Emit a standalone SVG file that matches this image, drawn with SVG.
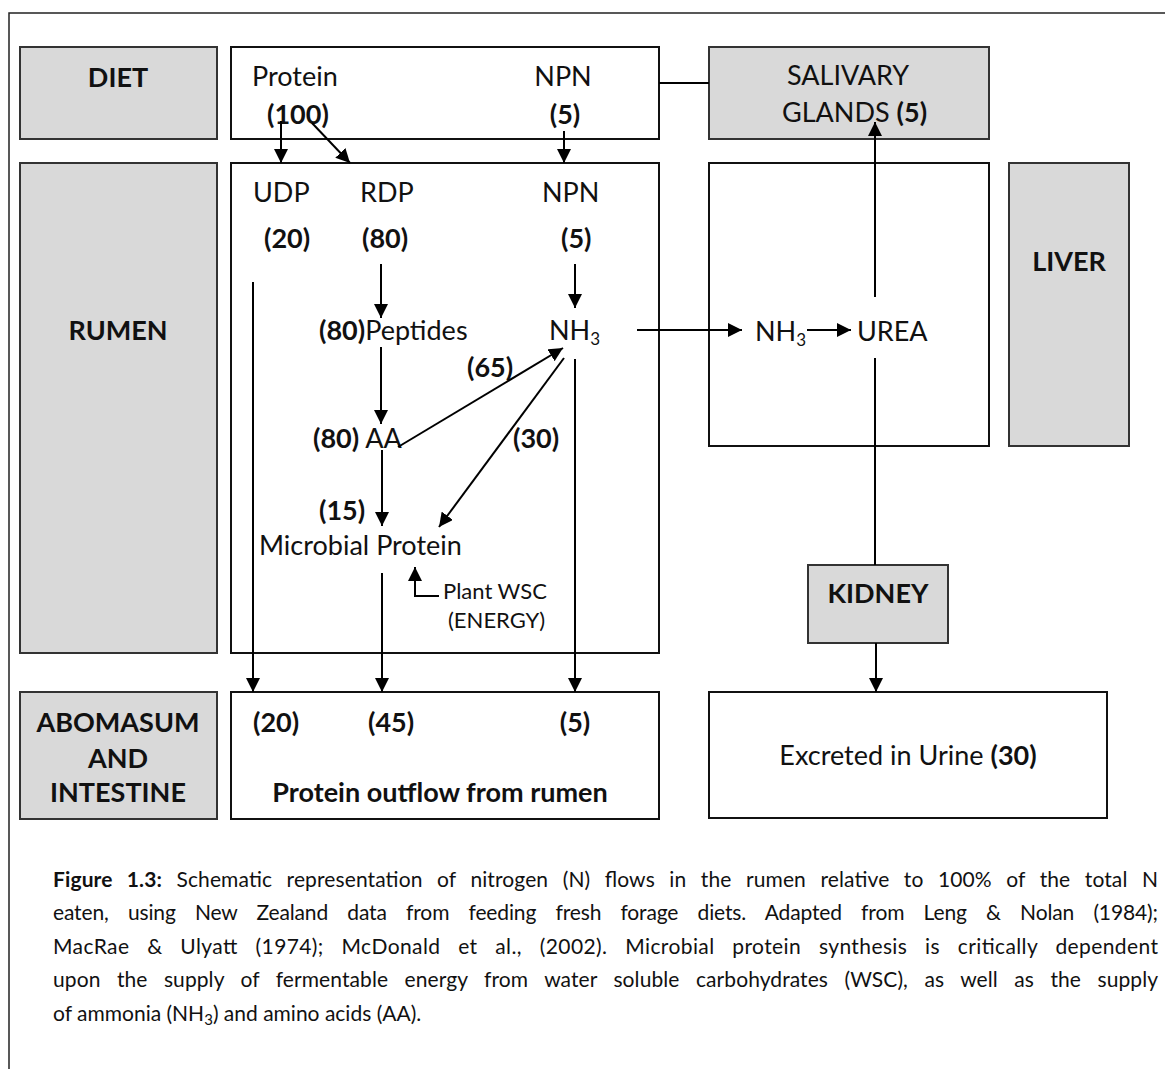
<svg xmlns="http://www.w3.org/2000/svg" width="1165" height="1069" viewBox="0 0 1165 1069">
<style>
text{font-family:Lato,"Open Sans","Liberation Sans",sans-serif;fill:#111}
.t{font-size:27px}
.b{font-weight:bold}
.s{font-size:22px}
.c{font-size:21px}
.gray{fill:#d9d9d9;stroke:#333;stroke-width:2}
.white{fill:#fff;stroke:#111;stroke-width:2}
.ln{fill:none;stroke:#000;stroke-width:2}
.ar{fill:none;stroke:#000;stroke-width:2;marker-end:url(#ah)}
</style>
<defs>
<marker id="ah" markerUnits="userSpaceOnUse" markerWidth="14" markerHeight="14" refX="14" refY="7" orient="auto">
<path d="M0,0 L14,7 L0,14 z" fill="#000"/>
</marker>
</defs>
<rect width="1165" height="1069" fill="#fff"/>
<path d="M9,1069 V13 H1165" fill="none" stroke="#222" stroke-width="1.5"/>

<g id="diet-label"><rect class="gray" x="20" y="47" width="197" height="92"/><text class="t b" x="118" y="87" text-anchor="middle">DIET</text></g>
<g id="diet"><rect class="white" x="231" y="47" width="428" height="92"/>
<text class="t" x="252" y="86">Protein</text><text class="t b" x="267" y="124">(100)</text>
<text class="t" x="563" y="86" text-anchor="middle">NPN</text><text class="t b" x="565" y="124" text-anchor="middle">(5)</text></g>
<g id="salivary"><rect class="gray" x="709" y="47" width="280" height="92"/>
<text class="t" x="848" y="85" text-anchor="middle">SALIVARY</text>
<text class="t" x="782" y="122">GLANDS <tspan class="b">(5)</tspan></text></g>

<g id="rumen-label"><rect class="gray" x="20" y="163" width="197" height="490"/><text class="t b" x="118" y="340" text-anchor="middle">RUMEN</text></g>
<g id="rumen"><rect class="white" x="231" y="163" width="428" height="490"/>
<text class="t" x="253" y="202">UDP</text><text class="t" x="360" y="202">RDP</text><text class="t" x="542" y="202">NPN</text>
<text class="t b" x="264" y="248">(20)</text><text class="t b" x="362" y="248">(80)</text><text class="t b" x="561" y="248">(5)</text>
<text class="t" x="319" y="340"><tspan class="b">(80)</tspan>Peptides</text>
<text class="t" x="549" y="340">NH<tspan font-size="17" dy="5">3</tspan></text>
<text class="t b" x="467" y="377">(65)</text>
<text class="t" x="313" y="448"><tspan class="b">(80)</tspan> AA</text>
<text class="t b" x="513" y="448">(30)</text>
<text class="t b" x="319" y="520">(15)</text>
<text class="t" x="259" y="555">Microbial Protein</text>
<text class="s" x="443" y="599">Plant WSC</text>
<text class="s" x="448" y="628">(ENERGY)</text></g>

<g id="liver"><rect class="white" x="709" y="163" width="280" height="283"/>
<text class="t" x="755" y="341">NH<tspan font-size="17" dy="5">3</tspan></text>
<text class="t" x="857" y="341">UREA</text></g>
<g id="liver-label"><rect class="gray" x="1009" y="163" width="120" height="283"/><text class="t b" x="1069" y="271" text-anchor="middle">LIVER</text></g>
<g id="kidney"><rect class="gray" x="808" y="565" width="140" height="78"/><text class="t b" x="878" y="603" text-anchor="middle">KIDNEY</text></g>

<g id="abomasum-label"><rect class="gray" x="20" y="692" width="197" height="127"/>
<text class="t b" x="118" y="732" text-anchor="middle">ABOMASUM</text>
<text class="t b" x="118" y="768" text-anchor="middle">AND</text>
<text class="t b" x="118" y="802" text-anchor="middle">INTESTINE</text></g>
<g id="outflow"><rect class="white" x="231" y="692" width="428" height="127"/>
<text class="t b" x="253" y="732">(20)</text><text class="t b" x="368" y="732">(45)</text><text class="t b" x="575" y="732" text-anchor="middle">(5)</text>
<text class="t b" x="440" y="802" text-anchor="middle">Protein outflow from rumen</text></g>
<g id="urine"><rect class="white" x="709" y="692" width="398" height="126"/>
<text class="t" x="908" y="765" text-anchor="middle">Excreted in Urine <tspan class="b">(30)</tspan></text></g>

<g id="connectors">
<path class="ln" d="M659,83 H709"/>
<path class="ar" d="M281,121 V163"/>
<path class="ar" d="M312,123 L350,163"/>
<path class="ar" d="M564,131 V163"/>
<path class="ar" d="M253,282 V692"/>
<path class="ar" d="M381,264 V318"/>
<path class="ar" d="M575,264 V308"/>
<path class="ar" d="M381,347 V424"/>
<path class="ar" d="M398,447 L563,348"/>
<path class="ar" d="M564,358 L439,527"/>
<path class="ar" d="M382,450 V526"/>
<path class="ar" d="M382,573 V692"/>
<path class="ar" d="M575,359 V692"/>
<path class="ar" d="M439,596 H415 V567"/>
<path class="ar" d="M637,330 H742"/>
<path class="ar" d="M807,330 H851"/>
<path class="ar" d="M875,297 V122"/>
<path class="ln" d="M875,358 V565"/>
<path class="ar" d="M876,643 V692"/>
</g>

<g id="caption">
<text class="c" x="53" y="887" word-spacing="9" textLength="1105" lengthAdjust="spacing"><tspan class="b">Figure 1.3:</tspan> Schematic representation of nitrogen (N) flows in the rumen relative to 100% of the total N</text>
<text class="c" x="53" y="920" word-spacing="14" textLength="1105" lengthAdjust="spacing">eaten, using New Zealand data from feeding fresh forage diets. Adapted from Leng &amp; Nolan (1984);</text>
<text class="c" x="53" y="954" word-spacing="12" textLength="1105" lengthAdjust="spacing">MacRae &amp; Ulyatt (1974); McDonald et al., (2002). Microbial protein synthesis is critically dependent</text>
<text class="c" x="53" y="987" word-spacing="11" textLength="1105" lengthAdjust="spacing">upon the supply of fermentable energy from water soluble carbohydrates (WSC), as well as the supply</text>
<text class="c" x="53" y="1021">of ammonia (NH<tspan font-size="15" dy="4">3</tspan><tspan dy="-4">) and amino acids (AA).</tspan></text>
</g>
</svg>
